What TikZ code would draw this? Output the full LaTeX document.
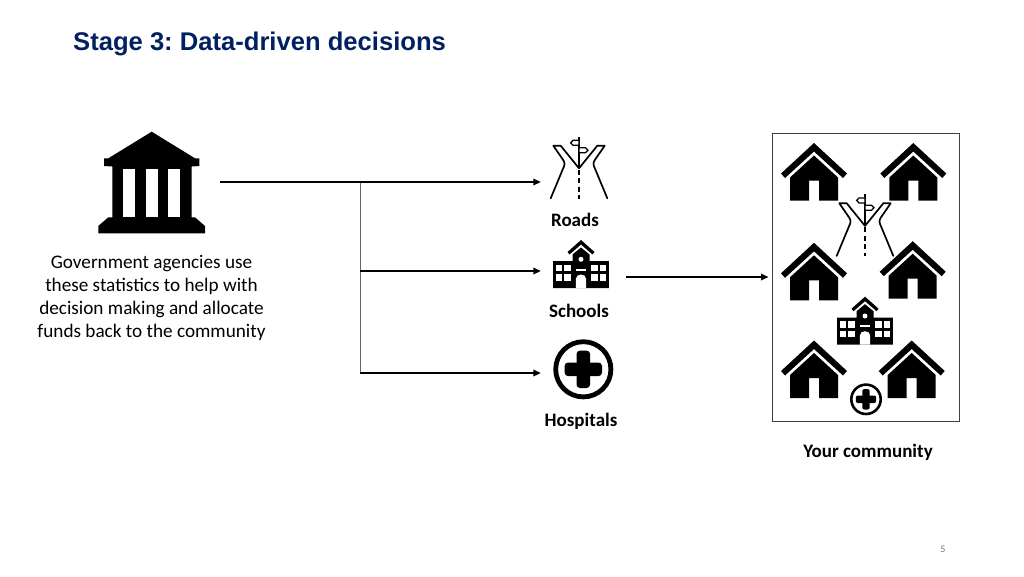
\documentclass[tikz,border=0pt]{standalone}
\usepackage{fontspec}
\setmainfont{Carlito}
\newfontfamily\titlefont{Liberation Sans}
\usetikzlibrary{arrows.meta}
\definecolor{navy}{HTML}{002060}
\frenchspacing
\tikzset{
  x=1pt,y=-1pt,
  conn/.style={line width=1.9pt,-{Triangle[length=7.5pt,width=6.5pt]}},
  thinline/.style={line width=0.9pt,draw=black!60},
  lbl/.style={font=\fontsize{19.2}{23}\selectfont,align=center,inner sep=0pt},
  blbl/.style={font=\fontsize{19}{22}\selectfont\bfseries,inner sep=0pt},
  anchorbox/.style={inner sep=0pt,minimum height=2pt},
  rline/.style={line width=1.7pt,line cap=round,line join=round},
  house/.pic={
    \fill[black] (0,-0.5)--(33,30)--(29,34.5)--(0,8)--(-29,34.5)--(-33,30)--cycle;
    \fill[black] (0,12)--(24,34)--(24,57)--(5,57)--(5,37)--(-5,37)--(-5,57)--(-24,57)--(-24,34)--cycle;
  },
  road/.pic={
    \draw[line width=1.7pt] (0,0)--(0,30);
    \draw[rline] (-28.3,61.6) -- (-16,32) .. controls (-14,28) and (-14,26) .. (-16,23) -- (-25.7,9) -- (-18.3,9) -- (0,31.6) -- (18.3,9) -- (25.7,9) -- (16,23) .. controls (14,26) and (14,28) .. (16,32) -- (28.3,61.6);
    \draw[line width=1.5pt,dash pattern=on 5pt off 3.5pt] (0,33) -- (0,62);
    \draw[line width=1.3pt,fill=white] (0,3.6)--(-6,3.6)--(-8.3,6.1)--(-6,8.6)--(0,8.6)--cycle;
    \draw[line width=1.3pt,fill=white] (0,11)--(6.5,11)--(9,13.5)--(6.5,16)--(0,16)--cycle;
  },
  school/.pic={
    \fill[black] (0,0)--(13.5,12)--(11.5,14.5)--(0,4.5)--(-11.5,14.5)--(-13.5,12)--cycle;
    \fill[black] (0,7.5)--(8.5,14.5)--(8.5,21)--(27.8,21)--(27.8,48)--(-27.8,48)--(-27.8,21)--(-8.5,21)--(-8.5,14.5)--cycle;
    \fill[white] (0,19.3) circle[radius=2.5];
    \foreach \s in {-1,1}{
      \fill[white] (\s*24.7,24.5) rectangle (\s*18.6,31);
      \fill[white] (\s*17,24.5) rectangle (\s*10.4,31);
      \fill[white] (\s*24.7,34) rectangle (\s*18.6,40.5);
      \fill[white] (\s*17,34) rectangle (\s*10.4,40.5);
    }
    \fill[white] (-4.8,28.7) rectangle (4.8,30.7);
    \fill[white] (-5.2,48)--(-5.2,39) .. controls (-5.2,33) and (5.2,33) .. (5.2,39) --(5.2,48)--cycle;
  },
  hospital/.pic={
    \draw[line width=4.8pt] (0,0) circle[radius=27.6];
    \fill[black,rounded corners=3.5pt] (-6.8,-18.7) rectangle (6.8,18.7);
    \fill[black,rounded corners=3.5pt] (-18.7,-6.8) rectangle (18.7,6.8);
  },
  hospitalsmall/.pic={
    \draw[line width=2.6pt] (0,0) circle[radius=14.7];
    \fill[black,rounded corners=2pt] (-3.7,-10.2) rectangle (3.7,10.2);
    \fill[black,rounded corners=2pt] (-10.2,-3.7) rectangle (10.2,3.7);
  },
  bank/.pic={
    \fill[black] (151.7,131.7)--(195,158.3)--(199.3,158.3)--(199.3,166)--(191.7,166.5)--(191.7,217.3)--(195,217.3)--(205,226)--(205,233.3)--(98.3,233.3)--(98.3,226)--(108.3,217.3)--(112.3,217.3)--(112.3,166.5)--(104,166)--(104,158.3)--(108.3,158.3)--cycle;
    \fill[white] (123.3,169.3) rectangle (135,217.3);
    \fill[white] (146,169.3) rectangle (157.7,217.3);
    \fill[white] (168.3,169.3) rectangle (180,217.3);
  }
}
\begin{document}
\begin{tikzpicture}
\useasboundingbox (0,0) rectangle (1024,576);
\node[anchor=west,inner sep=0pt,font=\titlefont\fontsize{25.6}{30}\selectfont\bfseries,text=navy] (title) at (73,44.3) {Stage 3: Data-driven decisions};

% icons
\pic at (0,0) {bank};
\pic at (579,136.7) {road};
\pic at (581,240) {school};
\pic at (583.3,369.3) {hospital};
\pic at (814,143.5) {house};
\pic at (913.3,143.5) {house};
\pic at (814,243.3) {house};
\pic at (912.7,241.7) {house};
\pic at (814,341) {house};
\pic at (911.7,341) {house};
\pic at (865,194.3) {road};
\pic at (865,296.7) {school};
\pic at (866,399.3) {hospitalsmall};

% invisible anchors for connectors
\node[anchorbox,minimum width=136pt] (gov) at (152,182) {};
\node[anchorbox,minimum width=76pt] (roads) at (579,182) {};
\node[anchorbox,minimum width=80pt] (schools) at (581,271) {};
\node[anchorbox,minimum width=84pt] (hospitals) at (583,373) {};
\node[draw=black!75,line width=1pt,minimum width=186.5pt,minimum height=288.5pt,inner sep=0pt] (community) at (865.75,277.25) {};
\coordinate (hub) at (360,182);
\coordinate (hubs) at (360,271);
\coordinate (hubh) at (360,373);
\coordinate (out) at (626,277);
\coordinate (in) at (768.5,277);

\draw[thinline] (hub) -- (hubh);
\draw[conn] (gov.east) -- (roads.west);
\draw[conn] (hubs) -- (schools.west);
\draw[conn] (hubh) -- (hospitals.west);
\draw[conn] (out) -- (in);

% labels
\node[lbl] (desc) at (151.5,297.6) {Government agencies use\\these statistics to help with\\decision making and allocate\\funds back to the community};
\node[blbl] (lroads) at (575,220) {Roads};
\node[blbl] (lschools) at (579,311) {Schools};
\node[blbl] (lhosp) at (581,421) {Hospitals};
\node[blbl] (lcomm) at (868,452) {Your community};
\node[inner sep=0pt,font=\fontsize{10}{12}\selectfont,text=black!55] (pageno) at (943,549) {5};
\end{tikzpicture}
\end{document}
